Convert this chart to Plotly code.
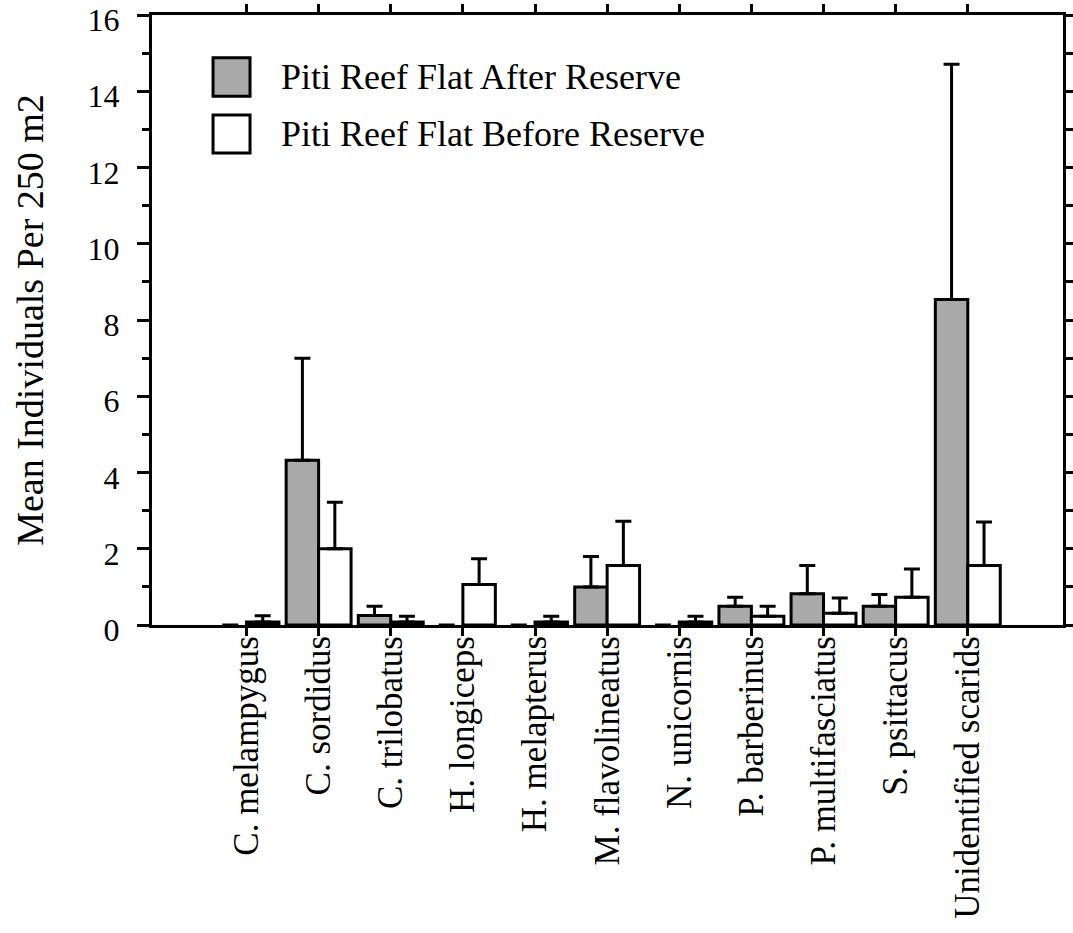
import plotly.graph_objects as go

# Species surveyed on the Piti reef flat
species = [
    "C. melampygus", "C. sordidus", "C. trilobatus", "H. longiceps",
    "H. melapterus", "M. flavolineatus", "N. unicornis", "P. barberinus",
    "P. multifasciatus", "S. psittacus", "Unidentified scarids",
]

# Mean individuals per 250 m2 and upper error (SE) for each period
after_mean = [0, 4.32, 0.25, 0, 0, 1.0, 0, 0.49, 0.82, 0.49, 8.54]
after_err = [None, 2.68, 0.24, None, None, 0.8, None, 0.24, 0.74, 0.31, 6.17]
before_mean = [0.08, 2.0, 0.08, 1.06, 0.08, 1.56, 0.08, 0.23, 0.31, 0.73, 1.56]
before_err = [0.16, 1.22, 0.15, 0.68, 0.15, 1.16, 0.15, 0.26, 0.40, 0.74, 1.14]

series_names = ["Piti Reef Flat After Reserve", "Piti Reef Flat Before Reserve"]
y_ticks = [0, 2, 4, 6, 8, 10, 12, 14, 16]

FONT = "Liberation Serif, Times New Roman, serif"
GRAY = "#a9a9a9"
x_pos = list(range(len(species)))

fig = go.Figure()
for name, mean, err, fill in [
    (series_names[0], after_mean, after_err, GRAY),
    (series_names[1], before_mean, before_err, "white"),
]:
    # empty bars get no outline so the baseline stays one stroke thick
    outline = [3 if v > 0 else 0 for v in mean]
    fig.add_trace(go.Bar(
        x=x_pos, y=mean, name=name,
        marker=dict(color=fill, line=dict(color="black", width=outline)),
        error_y=dict(type="data", array=err, symmetric=False,
                     arrayminus=[0] * len(mean), color="black",
                     thickness=3, width=8),
    ))

fig.update_layout(
    width=1073, height=933,
    margin=dict(l=152, r=10, t=15, b=308),
    paper_bgcolor="white", plot_bgcolor="white",
    barmode="group", bargap=0.1, bargroupgap=0,
    showlegend=False,
    font=dict(family=FONT, color="black", size=32),
)

fig.update_xaxes(
    range=[-1.31, 11.32], tickmode="array", tickvals=x_pos, ticktext=species,
    tickangle=-90, tickfont=dict(family=FONT, size=35),
    ticks="outside", ticklen=8, tickwidth=3, tickcolor="black",
    ticklabelstandoff=-14, automargin=False,
    showline=True, linewidth=3, linecolor="black", mirror="ticks",
    showgrid=False, zeroline=False,
)
fig.update_yaxes(
    range=[0, 16], tickmode="array", tickvals=y_ticks,
    tickfont=dict(family=FONT, size=32),
    ticks="outside", ticklen=12, tickwidth=3, tickcolor="black",
    ticklabelstandoff=11, ticklabelshift=5,
    automargin=False, ticklabeloverflow="allow",
    minor=dict(dtick=1, ticks="outside", ticklen=7, tickwidth=3,
               tickcolor="black", showgrid=False),
    showline=True, linewidth=3, linecolor="black", mirror="ticks",
    showgrid=False, zeroline=False,
    title=dict(text="Mean Individuals Per 250 m2",
               font=dict(family=FONT, size=38), standoff=33),
)

# Legend drawn as swatches with text beside them
legend_rows = [(0.867, 0.930, GRAY, series_names[0]),
               (0.7736, 0.836, "white", series_names[1])]
for y0, y1, fill, label in legend_rows:
    fig.add_shape(type="rect", xref="paper", yref="paper",
                  x0=0.067, x1=0.1076, y0=y0, y1=y1,
                  fillcolor=fill, line=dict(color="black", width=3))
    fig.add_annotation(xref="paper", yref="paper", x=0.1394, y=(y0 + y1) / 2,
                       text=label, showarrow=False, xanchor="left",
                       yanchor="middle",
                       font=dict(family=FONT, size=36, color="black"))

fig.write_html("out.html")
